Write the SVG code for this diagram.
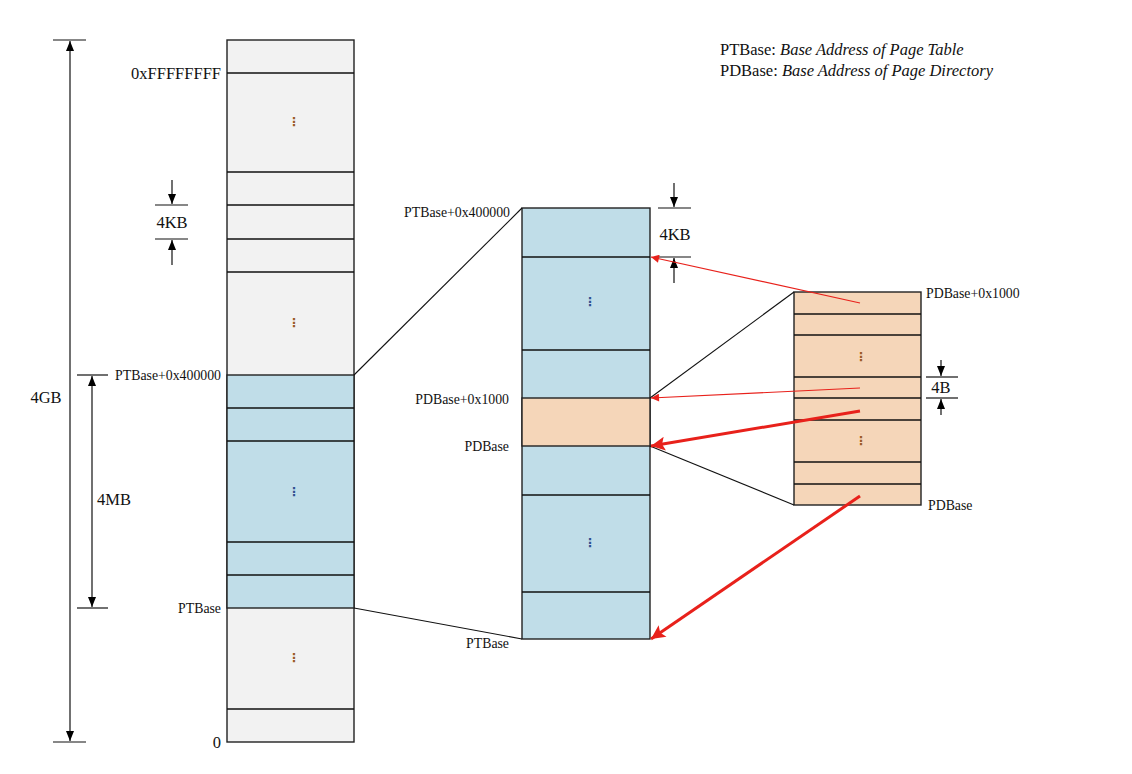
<svg xmlns="http://www.w3.org/2000/svg" width="1132" height="774" viewBox="0 0 1132 774">
<defs>
<marker id="ab" viewBox="0 0 10 10" refX="10" refY="5" markerWidth="10" markerHeight="10" markerUnits="userSpaceOnUse" orient="auto"><path d="M0,1 L10,5 L0,9 z" fill="#000"/></marker>
<marker id="rt" viewBox="0 0 10 10" refX="10" refY="5" markerWidth="10" markerHeight="8" markerUnits="userSpaceOnUse" orient="auto"><path d="M0,0 L10,5 L0,10 z" fill="#e8211b"/></marker>
<marker id="rk" viewBox="0 0 10 10" refX="10" refY="5" markerWidth="16" markerHeight="14" markerUnits="userSpaceOnUse" orient="auto"><path d="M0,0 L10,5 L0,10 L2,5 z" fill="#e8211b"/></marker>
</defs>
<style>
.g{fill:#f2f2f2;stroke:#222;stroke-width:1.4}
.b{fill:#c0dde8;stroke:#222;stroke-width:1.4}
.o{fill:#f5d6b9;stroke:#222;stroke-width:1.4}
.ln{stroke:#111;stroke-width:1.4}
.t{font-family:"Liberation Serif",serif;fill:#111}
.s{font-size:13.8px}
.m{font-size:16.5px}
.dim{stroke:#111;stroke-width:1.2;fill:none}
.con{stroke:#111;stroke-width:1.1;fill:none}
.rt{stroke:#e8211b;stroke-width:1.1;fill:none}
.rk{stroke:#e8211b;stroke-width:3;fill:none}
.dg{font-family:"DejaVu Sans",sans-serif;font-size:12px;font-weight:bold;fill:#9a5a24}
.db{font-family:"DejaVu Sans",sans-serif;font-size:12px;font-weight:bold;fill:#2f4f8f}
</style>
<rect width="1132" height="774" fill="#fff"/>

<g id="legend">
<text class="t" x="720" y="55" font-size="16.5">PTBase: <tspan font-style="italic">Base Address of Page Table</tspan></text>
<text class="t" x="720" y="76" font-size="16.5">PDBase: <tspan font-style="italic">Base Address of Page Directory</tspan></text>
</g>

<g id="memory">
<rect class="g" x="227" y="40" width="127" height="702"/>
<rect class="b" x="227" y="375" width="127" height="233"/>
<line class="ln" x1="227" y1="73" x2="354" y2="73"/>
<line class="ln" x1="227" y1="172" x2="354" y2="172"/>
<line class="ln" x1="227" y1="205" x2="354" y2="205"/>
<line class="ln" x1="227" y1="239" x2="354" y2="239"/>
<line class="ln" x1="227" y1="272" x2="354" y2="272"/>
<line class="ln" x1="227" y1="408" x2="354" y2="408"/>
<line class="ln" x1="227" y1="441" x2="354" y2="441"/>
<line class="ln" x1="227" y1="542" x2="354" y2="542"/>
<line class="ln" x1="227" y1="575" x2="354" y2="575"/>
<line class="ln" x1="227" y1="709" x2="354" y2="709"/>
<text class="dg" x="294" y="126" text-anchor="middle">⋮</text>
<text class="dg" x="294" y="327" text-anchor="middle">⋮</text>
<text class="db" x="294" y="496" text-anchor="middle">⋮</text>
<text class="dg" x="294" y="662" text-anchor="middle">⋮</text>
<text class="t m" x="221" y="79" text-anchor="end">0xFFFFFFFF</text>
<text class="t s" x="221" y="380" text-anchor="end">PTBase+0x400000</text>
<text class="t s" x="221" y="613" text-anchor="end">PTBase</text>
<text class="t m" x="221" y="748" text-anchor="end">0</text>
</g>

<g id="dim-4gb">
<line class="dim" x1="53" y1="40" x2="86" y2="40"/>
<line class="dim" x1="53" y1="742" x2="86" y2="742"/>
<line class="dim" x1="70" y1="56" x2="70" y2="41" marker-end="url(#ab)"/>
<line class="dim" x1="70" y1="56" x2="70" y2="741" marker-end="url(#ab)"/>
<text class="t m" x="46" y="403" text-anchor="middle">4GB</text>
</g>

<g id="dim-4mb">
<line class="dim" x1="77" y1="375" x2="108" y2="375"/>
<line class="dim" x1="77" y1="608" x2="108" y2="608"/>
<line class="dim" x1="92" y1="390" x2="92" y2="376" marker-end="url(#ab)"/>
<line class="dim" x1="92" y1="390" x2="92" y2="607" marker-end="url(#ab)"/>
<text class="t m" x="114" y="505" text-anchor="middle">4MB</text>
</g>

<g id="dim-4kb-left">
<line class="dim" x1="155" y1="205" x2="188" y2="205"/>
<line class="dim" x1="155" y1="239" x2="188" y2="239"/>
<line class="dim" x1="172" y1="180" x2="172" y2="204" marker-end="url(#ab)"/>
<line class="dim" x1="172" y1="265" x2="172" y2="240" marker-end="url(#ab)"/>
<text class="t m" x="172" y="228" text-anchor="middle">4KB</text>
</g>

<g id="pagetable">
<rect class="b" x="522" y="208" width="128" height="431"/>
<rect class="o" x="522" y="398" width="128" height="48"/>
<line class="ln" x1="522" y1="257" x2="650" y2="257"/>
<line class="ln" x1="522" y1="350" x2="650" y2="350"/>
<line class="ln" x1="522" y1="495" x2="650" y2="495"/>
<line class="ln" x1="522" y1="592" x2="650" y2="592"/>
<text class="db" x="590" y="306" text-anchor="middle">⋮</text>
<text class="db" x="590" y="547" text-anchor="middle">⋮</text>
<text class="t s" x="510" y="217" text-anchor="end">PTBase+0x400000</text>
<text class="t s" x="509" y="404" text-anchor="end">PDBase+0x1000</text>
<text class="t s" x="509" y="451" text-anchor="end">PDBase</text>
<text class="t s" x="509" y="648" text-anchor="end">PTBase</text>
</g>

<g id="dim-4kb-right">
<line class="dim" x1="658" y1="208" x2="691" y2="208"/>
<line class="dim" x1="658" y1="257" x2="691" y2="257"/>
<line class="dim" x1="674" y1="183" x2="674" y2="207" marker-end="url(#ab)"/>
<line class="dim" x1="674" y1="283" x2="674" y2="258" marker-end="url(#ab)"/>
<text class="t m" x="675" y="240" text-anchor="middle">4KB</text>
</g>

<g id="pagedirectory">
<rect class="o" x="794" y="292" width="127" height="213"/>
<line class="ln" x1="794" y1="314" x2="921" y2="314"/>
<line class="ln" x1="794" y1="335" x2="921" y2="335"/>
<line class="ln" x1="794" y1="377" x2="921" y2="377"/>
<line class="ln" x1="794" y1="398" x2="921" y2="398"/>
<line class="ln" x1="794" y1="420" x2="921" y2="420"/>
<line class="ln" x1="794" y1="462" x2="921" y2="462"/>
<line class="ln" x1="794" y1="484" x2="921" y2="484"/>
<text class="dg" x="861" y="361" text-anchor="middle">⋮</text>
<text class="dg" x="861" y="445" text-anchor="middle">⋮</text>
<text class="t s" x="926" y="298">PDBase+0x1000</text>
<text class="t s" x="928" y="510">PDBase</text>
</g>

<g id="dim-4b">
<line class="dim" x1="926" y1="377" x2="958" y2="377"/>
<line class="dim" x1="926" y1="398" x2="958" y2="398"/>
<line class="dim" x1="941" y1="360" x2="941" y2="376" marker-end="url(#ab)"/>
<line class="dim" x1="941" y1="415" x2="941" y2="399" marker-end="url(#ab)"/>
<text class="t m" x="941" y="393" text-anchor="middle">4B</text>
</g>

<g id="connectors">
<line class="con" x1="354" y1="375" x2="522" y2="208"/>
<line class="con" x1="354" y1="608" x2="522" y2="639"/>
<line class="con" x1="650" y1="398" x2="794" y2="292"/>
<line class="con" x1="650" y1="446" x2="794" y2="505"/>
<line class="rt" x1="860" y1="303" x2="651" y2="257" marker-end="url(#rt)"/>
<line class="rt" x1="860" y1="388" x2="651" y2="398" marker-end="url(#rt)"/>
<line class="rk" x1="860" y1="411" x2="651" y2="446" marker-end="url(#rk)"/>
<line class="rk" x1="860" y1="496" x2="651" y2="639" marker-end="url(#rk)"/>
</g>
</svg>
